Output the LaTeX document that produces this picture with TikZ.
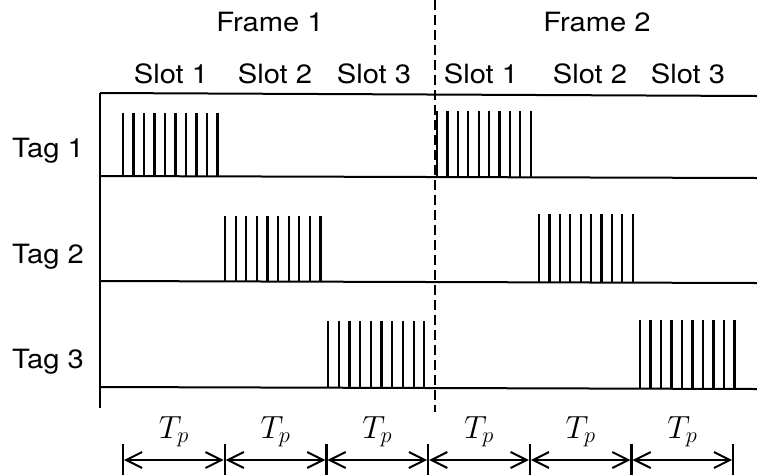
\RequirePackage{fix-cm}
\documentclass[tikz,border=0pt]{standalone}
\usepackage{fontspec}
\setmainfont[FakeStretch=1.1]{TeX Gyre Heros}
\usetikzlibrary{arrows.meta,calc}
\begin{document}
\begin{tikzpicture}[x=1pt,y=-1pt,
  lbl/.style={font=\fontsize{26.5}{30}\selectfont, inner sep=0pt, anchor=base},
  tp/.style={font=\fontsize{32}{36}\selectfont, inner sep=0pt, anchor=base},
  axis/.style={line width=2pt},
  pulse/.style={line width=2.2pt},
  dim/.style={line width=2pt, {Straight Barb[length=16pt,width=16pt,line width=2pt]}-{Straight Barb[length=16pt,width=16pt,line width=2pt]}},
  tick/.style={line width=2.2pt}]
\useasboundingbox (0,0) rectangle (757,475);
% frame & slot labels
\node[lbl] (f1) at (270,31.5) {Frame 1};
\node[lbl] (f2) at (597,31.5) {Frame 2};
\node[lbl] (s11) at (171,83) {Slot 1};
\node[lbl] (s12) at (275,83) {Slot 2};
\node[lbl] (s13) at (374,83) {Slot 3};
\node[lbl] (s21) at (481,83) {Slot 1};
\node[lbl] (s22) at (590,83) {Slot 2};
\node[lbl] (s23) at (688,83) {Slot 3};
\node[lbl] (t1) at (48,157) {Tag 1};
\node[lbl] (t2) at (48,263) {Tag 2};
\node[lbl] (t3) at (48,368) {Tag 3};
% axes
\coordinate (tl) at (100,93);
\coordinate (tr) at (757,96);
\coordinate (bl) at (100,408);
\draw[axis] (tl) -- (tr);
\draw[axis] (tl) -- (bl);
\coordinate (b1l) at (100,176); \coordinate (b1r) at (757,178);
\coordinate (b2l) at (100,281); \coordinate (b2r) at (757,283);
\coordinate (b3l) at (100,387); \coordinate (b3r) at (757,389);
\draw[axis] (b1l) -- (b1r);
\draw[axis] (b2l) -- (b2r);
\draw[axis] (b3l) -- (b3r);
% pulses
\foreach \i in {0,...,9} {
  \draw[pulse] ({123+10.5*\i},113) -- ({123+10.5*\i},176);
  \draw[pulse] ({437+10.4*\i},111) -- ({437+10.4*\i},177);
  \draw[pulse] ({225+10.6*\i},216) -- ({225+10.6*\i},281);
  \draw[pulse] ({539+10.4*\i},214) -- ({539+10.4*\i},282);
  \draw[pulse] ({328+10.7*\i},321) -- ({328+10.7*\i},387);
  \draw[pulse] ({640+10.5*\i},320) -- ({640+10.5*\i},388);
}
% dashed frame separator
\coordinate (dtop) at (435,0);
\coordinate (dbot) at (435,412);
\draw[line width=1.6pt, dash pattern=on 10pt off 5pt] (dtop) -- (dbot);
% dimension arrows
\foreach \k in {0,...,6} {
  \coordinate (k\k) at ({123+101.7*\k},460);
  \draw[tick] ({123+101.7*\k},444) -- ({123+101.7*\k},475);
}
\foreach \a/\b in {0/1,1/2,2/3,3/4,4/5,5/6} {
  \draw[dim] ([xshift=1pt]k\a) -- ([xshift=-1pt]k\b);
  \node[tp] (tp\a) at ($(k\a)!0.5!(k\b)+(0,-22)$) {$T_p$};
}
\end{tikzpicture}
\end{document}
